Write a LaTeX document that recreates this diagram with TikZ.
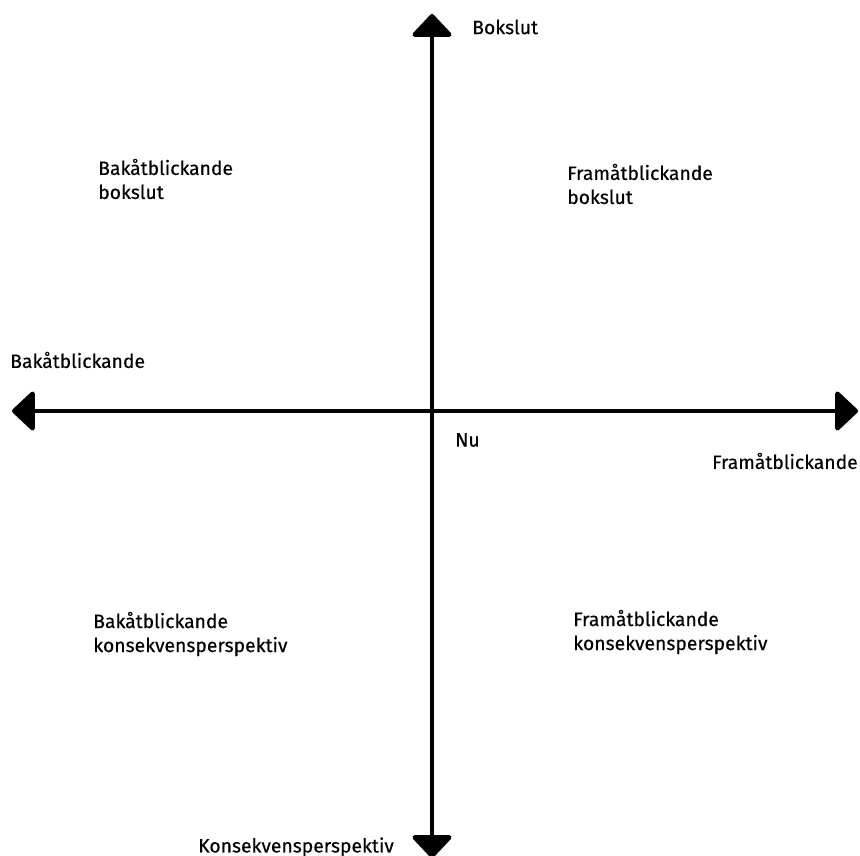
\documentclass[tikz,border=0pt]{standalone}
\usepackage{fontspec}
\setmainfont{Fira Sans}[FakeBold=0.3]
\usetikzlibrary{arrows.meta}
\tikzset{
  lbl/.style={anchor=west, align=left, inner sep=0pt, font=\fontsize{14.5}{18}\selectfont},
  axis/.style={line width=3.4pt, {Triangle[length=18pt,width=33pt,round]}-{Triangle[length=18pt,width=33pt,round]}}
}
\begin{document}
\begin{tikzpicture}[x=0.75pt,y=-0.75pt]
\useasboundingbox (0,0) rectangle (860,856);
\coordinate (west) at (12,411);
\coordinate (east) at (858,411);
\coordinate (north) at (432,14);
\coordinate (south) at (432,858);
\draw[axis](west) -- (east);
\draw[axis](north) -- (south);
\node[lbl] (bok) at (472,27){Bokslut};
\node[lbl] (bakbok) at (98,179){Bakåtblickande\\bokslut};
\node[lbl] (frambok) at (567,184){Framåtblickande\\bokslut};
\node[lbl] (bak) at (10,360){Bakåtblickande};
\node[lbl] (nu) at (455,440){Nu};
\node[lbl, anchor=east] (fram) at (858,461){Framåtblickande};
\node[lbl] (bakkon) at (93,634){Bakåtblickande\\konsekvensperspektiv};
\node[lbl] (framkon) at (573,632){Framåtblickande\\konsekvensperspektiv};
\node[lbl] (kon) at (198,847){Konsekvensperspektiv};
\end{tikzpicture}
\end{document}
